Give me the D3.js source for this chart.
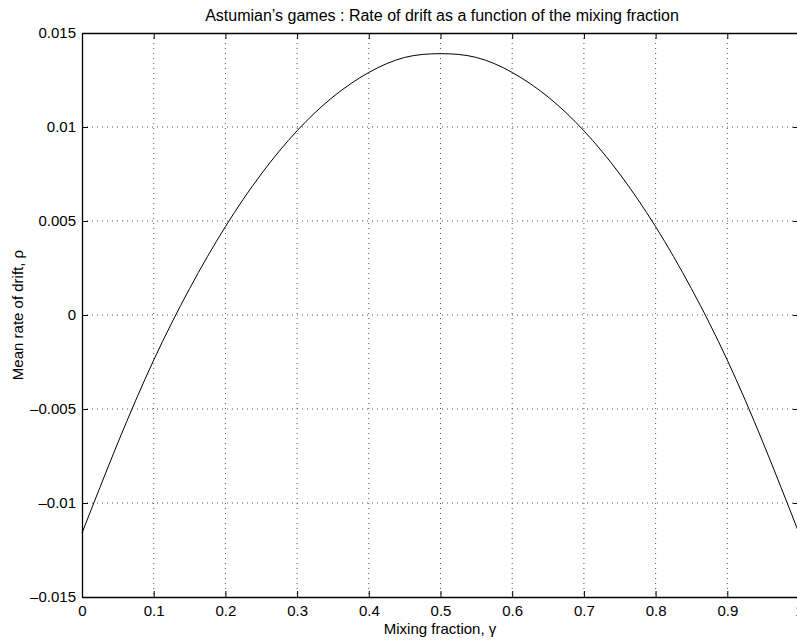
<!DOCTYPE html>
<html>
<head>
<meta charset="utf-8">
<script src="https://cdn.jsdelivr.net/npm/d3@7"></script>
<style>
  body { margin: 0; background: #fff; }
  text { font-family: "Liberation Sans", Arial, sans-serif; fill: #000; }
</style>
</head>
<body>
<svg id="chart"></svg>
<script>
// values
var gamma = [0, 0.05, 0.1, 0.15, 0.2, 0.25, 0.3, 0.35, 0.4, 0.45, 0.5,
             0.55, 0.6, 0.65, 0.7, 0.75, 0.8, 0.85, 0.9, 0.95, 1.0];
var drift = [-0.0116, -0.0068, -0.0024, 0.0014, 0.0047, 0.0075, 0.0098, 0.0116, 0.0129, 0.0137, 0.0139,
             0.0137, 0.0129, 0.0116, 0.0098, 0.0075, 0.0047, 0.0014, -0.0024, -0.0068, -0.0116];
var xTicks = [0, 0.1, 0.2, 0.3, 0.4, 0.5, 0.6, 0.7, 0.8, 0.9, 1];
var yTicks = [-0.015, -0.01, -0.005, 0, 0.005, 0.01, 0.015];

var svgWidth = 797, svgHeight = 644;
var padLeft = 82, padTop = 33, plotW = 717, plotH = 564;

var svg = d3.select('#chart')
    .attr("width", svgWidth)
    .attr("height", svgHeight);

var x = d3.scaleLinear().domain([0, 1]).range([padLeft, padLeft + plotW]);
var y = d3.scaleLinear().domain([-0.015, 0.015]).range([padTop + plotH, padTop]);

function fmt(d) {
    if (d === 0) return "0";
    return (d < 0 ? "\u2013" : "") + String(Math.abs(d));
}

// dotted grid
svg.append("g").selectAll("line")
    .data(xTicks.slice(1, -1))
    .enter().append("line")
    .attr("x1", function(d) { return x(d); })
    .attr("x2", function(d) { return x(d); })
    .attr("y1", padTop).attr("y2", padTop + plotH)
    .attr("stroke", "#555").attr("stroke-width", 1)
    .attr("stroke-dasharray", "1,4");

svg.append("g").selectAll("line")
    .data(yTicks.slice(1, -1))
    .enter().append("line")
    .attr("y1", function(d) { return y(d); })
    .attr("y2", function(d) { return y(d); })
    .attr("x1", padLeft).attr("x2", padLeft + plotW)
    .attr("stroke", "#555").attr("stroke-width", 1)
    .attr("stroke-dasharray", "1,4");

// axes (ticks pointing inward)
var xBottom = d3.axisBottom(x).tickValues(xTicks).tickFormat(d3.format("")).tickSizeInner(-6).tickSizeOuter(0).tickPadding(8);
var xTop = d3.axisTop(x).tickValues(xTicks).tickFormat("").tickSizeInner(-6).tickSizeOuter(0);
var yLeft = d3.axisLeft(y).tickValues(yTicks).tickFormat(fmt).tickSizeInner(-6).tickSizeOuter(0).tickPadding(6);
var yRight = d3.axisRight(y).tickValues(yTicks).tickFormat("").tickSizeInner(-6).tickSizeOuter(0);

var gs = [
    svg.append("g").attr("transform", "translate(0," + (padTop + plotH) + ")").call(xBottom),
    svg.append("g").attr("transform", "translate(0," + padTop + ")").call(xTop),
    svg.append("g").attr("transform", "translate(" + padLeft + ",0)").call(yLeft),
    svg.append("g").attr("transform", "translate(" + (padLeft + plotW) + ",0)").call(yRight)
];
gs.forEach(function(g) {
    g.select(".domain").attr("stroke", "#000").attr("stroke-width", 1.3);
    g.selectAll(".tick line").attr("stroke", "#000");
    g.selectAll("text").attr("font-size", 15).attr("font-family", "Liberation Sans, Arial, sans-serif");
});

// curve
var line = d3.line()
    .x(function(d, i) { return x(gamma[i]); })
    .y(function(d) { return y(d); })
    .curve(d3.curveNatural);

svg.append("path")
    .datum(drift)
    .attr("d", line)
    .attr("fill", "none")
    .attr("stroke", "#000")
    .attr("stroke-width", 1);

// labels
svg.append("text")
    .attr("x", 442).attr("y", 21)
    .attr("text-anchor", "middle").attr("font-size", 16)
    .text("Astumian\u2019s games : Rate of drift as a function of the mixing fraction");

svg.append("text")
    .attr("x", 440).attr("y", 634)
    .attr("text-anchor", "middle").attr("font-size", 15)
    .text("Mixing fraction, \u03b3");

svg.append("text")
    .attr("transform", "translate(23," + (padTop + plotH / 2) + ") rotate(-90)")
    .attr("text-anchor", "middle").attr("font-size", 15)
    .text("Mean rate of drift, \u03c1");
</script>
</body>
</html>
